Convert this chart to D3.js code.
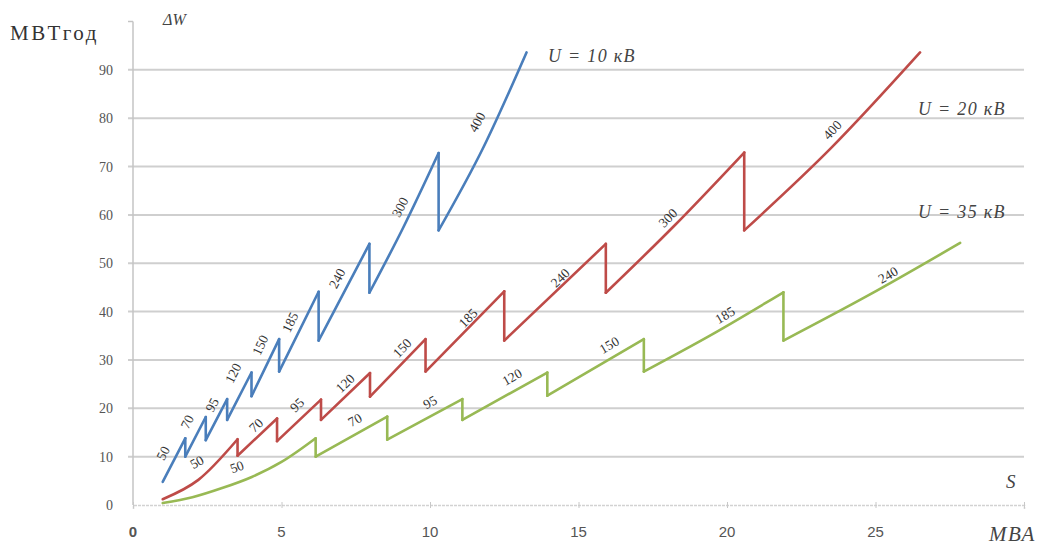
<!DOCTYPE html>
<html>
<head>
<meta charset="utf-8">
<script src="https://cdn.jsdelivr.net/npm/d3@7"></script>
<style>
  html, body { margin: 0; padding: 0; background: #fff; }
  svg { display: block; }
</style>
</head>
<body>
<svg id="chart" width="1046" height="546"></svg>
<script>
// Energy losses ΔW (MW·h per year) vs. transmitted power S (MVA),
// sawtooth curves for cable cross-sections at three voltages.
const u10 = [[1.0,4.8],[1.76,13.8],[1.76,10.0],[2.45,18.2],[2.45,13.4],[3.17,21.9],[3.17,17.6],
  [3.99,27.4],[3.99,22.5],[4.92,34.3],[4.92,27.6],[6.25,44.1],[6.25,34.0],[7.96,54.0],[7.96,43.9],
  [9.1,57.4],[10.29,72.8],[10.29,56.8],[11.8,74.0],[13.25,93.6]];
const u20 = [[1.0,1.2],[2.2,5.2],[3.52,13.6],[3.52,10.2],[4.85,17.9],[4.85,13.2],[6.33,21.8],[6.33,17.6],
  [7.98,27.3],[7.98,22.4],[9.85,34.3],[9.85,27.6],[12.5,44.2],[12.5,34.0],[15.92,54.0],[15.92,43.9],
  [18.2,57.6],[20.58,72.9],[20.58,56.8],[23.5,73.8],[26.5,93.6]];
const u35 = [[1.0,0.4],[2.0,1.6],[3.0,3.5],[4.0,5.8],[5.0,8.9],[6.15,13.8],[6.15,10.0],[8.56,18.3],[8.56,13.5],
  [11.09,21.9],[11.09,17.6],[13.95,27.4],[13.95,22.6],[17.2,34.3],[17.2,27.6],[19.5,35.3],[21.9,44.0],
  [21.9,34.0],[24.8,43.5],[27.85,54.2]];

// Cross-section labels: text, S, ΔW
const u10Labels = [["50",1.01,10.75],["70",1.82,17.2],["95",2.66,20.7],["120",3.37,27.3],["150",4.28,33.1],
  ["185",5.29,37.8],["240",6.87,46.9],["300",8.99,61.6],["400",11.58,79.2]];
const u20Labels = [["50",2.15,8.9],["70",4.14,16.5],["95",5.52,20.7],["120",7.14,25.2],["150",9.06,32.5],
  ["185",11.28,38.7],["240",14.38,47.0],["300",18.01,59.4],["400",23.54,77.6]];
const u35Labels = [["50",3.5,7.9],["70",7.47,17.6],["95",10.0,21.3],["120",12.76,26.5],["150",16.03,33.1],
  ["185",19.93,39.3],["240",25.42,47.6]];

const seriesNames = ["U = 10 кВ", "U = 20 кВ", "U = 35 кВ"];
const xTicks = [0, 5, 10, 15, 20, 25];
const yTicks = [0, 10, 20, 30, 40, 50, 60, 70, 80, 90];

const svg = d3.select("#chart");
const x = d3.scaleLinear().domain([0, 30]).range([133, 1024]);
const y = d3.scaleLinear().domain([0, 100]).range([505, 21.5]);

// gridlines
svg.append("g").selectAll("line").data(yTicks.filter(d => d > 0)).join("line")
  .attr("x1", x(0) - 5).attr("x2", x(30))
  .attr("y1", d => y(d)).attr("y2", d => y(d))
  .attr("stroke", "#cfcfcf").attr("stroke-width", 2);

// y axis line + top tick
svg.append("line").attr("x1", x(0)).attr("x2", x(0)).attr("y1", y(100)).attr("y2", y(0))
  .attr("stroke", "#c4c4c4").attr("stroke-width", 1.5);
svg.append("line").attr("x1", x(0) - 5).attr("x2", x(0)).attr("y1", y(100)).attr("y2", y(100))
  .attr("stroke", "#c4c4c4").attr("stroke-width", 1.5);

// x axis
const xAxis = d3.axisBottom(x).tickValues([0, 5, 10, 15, 20, 25, 30]).tickSize(4).tickFormat("");
const gx = svg.append("g").attr("transform", `translate(0,${y(0)})`).call(xAxis);
gx.select(".domain").attr("stroke", "#d2d2d2").attr("stroke-width", 1.5).attr("stroke-dasharray", "3,1");
gx.selectAll(".tick line").attr("stroke", "#c8c8c8").attr("y1", -3).attr("y2", 3);

svg.append("g").selectAll("text").data(xTicks).join("text")
  .attr("x", d => x(d)).attr("y", 537)
  .attr("text-anchor", "middle")
  .attr("font-family", "Liberation Sans, Arial, sans-serif")
  .attr("font-size", 15).attr("font-weight", d => d === 0 ? "bold" : "normal")
  .attr("fill", "#555").text(d => d);

svg.append("g").selectAll("text").data(yTicks).join("text")
  .attr("x", 113).attr("y", d => y(d) + 5)
  .attr("text-anchor", "end")
  .attr("font-family", "Liberation Serif, Times New Roman, serif")
  .attr("font-size", 14).attr("fill", "#555").text(d => d);

// series: smooth branches between switch points, vertical drops at each switch
const colors = ["#4a7ebb", "#be4b48", "#98b954"];
const branchLine = d3.line().x(d => x(d[0])).y(d => y(d[1])).curve(d3.curveMonotoneX);
function branches(pts) {
  const out = [[pts[0]]];
  for (let k = 1; k < pts.length; k++) {
    if (pts[k][0] === pts[k - 1][0]) out.push([pts[k]]);
    else out[out.length - 1].push(pts[k]);
  }
  return out;
}
[u10, u20, u35].forEach((pts, i) => {
  const g = svg.append("g").attr("fill", "none").attr("stroke", colors[i])
    .attr("stroke-width", 2.6).attr("stroke-linecap", "round").attr("stroke-linejoin", "round");
  g.selectAll("path").data(branches(pts)).join("path").attr("d", branchLine);
  const drops = [];
  for (let k = 1; k < pts.length; k++) if (pts[k][0] === pts[k - 1][0]) drops.push([pts[k - 1], pts[k]]);
  g.selectAll("line").data(drops).join("line")
    .attr("x1", d => x(d[0][0])).attr("y1", d => y(d[0][1]))
    .attr("x2", d => x(d[1][0])).attr("y2", d => y(d[1][1]));
});

// rotated cross-section labels, aligned with local slope of the curve
function slopeAngle(pts, s) {
  for (let k = 0; k < pts.length - 1; k++) {
    const a = pts[k], b = pts[k + 1];
    if (b[0] > a[0] && s >= a[0] - 0.3 && s <= b[0]) {
      const dx = x(b[0]) - x(a[0]), dy = y(b[1]) - y(a[1]);
      return Math.atan2(dy, dx) * 180 / Math.PI;
    }
  }
  const a = pts[pts.length - 2], b = pts[pts.length - 1];
  return Math.atan2(y(b[1]) - y(a[1]), x(b[0]) - x(a[0])) * 180 / Math.PI;
}
[[u10, u10Labels], [u20, u20Labels], [u35, u35Labels]].forEach(([pts, labs]) => {
  svg.append("g").selectAll("text").data(labs).join("text")
    .attr("transform", d => `translate(${x(d[1])},${y(d[2])}) rotate(${slopeAngle(pts, d[1])})`)
    .attr("text-anchor", "middle").attr("dy", "0.35em")
    .attr("font-family", "Liberation Serif, Times New Roman, serif")
    .attr("font-size", 13.5).attr("fill", "#333")
    .text(d => d[0]);
});

// titles and annotations
const serif = "Liberation Serif, Times New Roman, serif";
svg.append("text").attr("x", 10).attr("y", 40).attr("font-family", serif)
  .attr("font-size", 21).attr("letter-spacing", 2.5).attr("fill", "#333").text("МВТгод");
svg.append("text").attr("x", 163).attr("y", 25).attr("font-family", serif)
  .attr("font-size", 16).attr("font-style", "italic").attr("fill", "#444").text("ΔW");
const noteStyle = sel => sel.attr("font-family", serif).attr("font-size", 18)
  .attr("letter-spacing", 1.3).attr("font-style", "italic").attr("fill", "#444");
svg.append("text").attr("x", 548).attr("y", 62).call(noteStyle).text(seriesNames[0]);
svg.append("text").attr("x", 918).attr("y", 115).call(noteStyle).text(seriesNames[1]);
svg.append("text").attr("x", 918).attr("y", 218).call(noteStyle).text(seriesNames[2]);
svg.append("text").attr("x", 1006).attr("y", 488).attr("font-family", serif)
  .attr("font-size", 19).attr("font-style", "italic").attr("fill", "#444").text("S");
svg.append("text").attr("x", 989).attr("y", 541).attr("font-family", serif)
  .attr("font-size", 21).attr("letter-spacing", 1.5).attr("font-style", "italic").attr("fill", "#444").text("МВА");
</script>
</body>
</html>
